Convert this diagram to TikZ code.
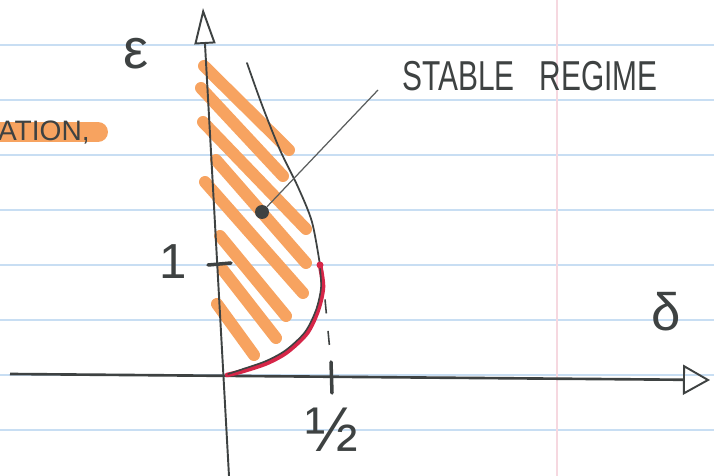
\documentclass[tikz,border=0pt]{standalone}
\usepackage{fontspec}
\setmainfont{Liberation Sans}
\usepackage{tikz}
\usetikzlibrary{arrows.meta,positioning}
\definecolor{pen}{RGB}{62,66,66}
\definecolor{hilite}{RGB}{247,163,96}
\definecolor{redpen}{RGB}{214,38,72}
\definecolor{paperrule}{RGB}{200,222,243}
\definecolor{paperedge}{RGB}{246,216,224}

\begin{document}
\begin{tikzpicture}[
      x=0.02cm, y=-0.02cm,
      ruleline/.style={paperrule, line width=1.6pt},
      axis/.style={pen, line width=1.1pt},
      stroke/.style={hilite, line width=2.4mm, line cap=round},
      hand/.style={text=pen, inner sep=0pt},
      tickmark/.style={pen, line width=2pt, line cap=round},
      curve/.style={pen, line width=1pt, line cap=round}
    ]
    \useasboundingbox (0,0) rectangle (714,476);
    \clip (0,0) rectangle (714,476);
    \fill[white] (0,0) rectangle (714,476);
    % ruled paper
    \foreach \y in {45,100,...,430}
      \draw[ruleline] (0,\y) -- (714,\y);
    \draw[paperedge, line width=1.2pt] (557,0) -- (557,476);
    % highlighter
    \draw[hilite, line width=4mm, line cap=round] (-10,132) -- (98,132);
    \foreach \a/\b in {{(204,66)/(289,150)}, {(201,88)/(283,176)}, {(203,122)/(306,229)},
                       {(216,160)/(306,263)}, {(205,182)/(303,293)}, {(220,236)/(286,316)},
                       {(223,270)/(276,338)}, {(217,304)/(254,355)}}
      \draw[stroke] \a -- \b;
    % axes
    \coordinate (origin) at (226,375);
    \coordinate (ybot) at (229,476);
    \coordinate (ytop) at (203,8);
    \coordinate (xleft) at (10,374);
    \coordinate (xright) at (710,380);
    \draw[axis, -{Triangle[open, length=7.2mm, width=4.2mm]}] (ybot) -- (ytop);
    \draw[axis, line width=1.5pt, -{Triangle[open, length=5.4mm, width=6mm, line width=1.1pt]}] (xleft) -- (xright);
    \node[hand, font=\fontsize{32}{32}\selectfont] (eps) at (136,54) {ε};
    \node[hand, font=\fontsize{30}{30}\selectfont] (delta) at (666,312) {δ};
    % ticks
    \draw[tickmark] (208,265) -- (231,263);
    \node[hand, font=\fontsize{28}{28}\selectfont] (one) at (173,262) {1};
    \draw[tickmark] (331,362) -- (332,393);
    \node[hand, font=\fontsize{36}{36}\selectfont] (half) at (332,430) {½};
    \draw[pen, line width=0.9pt, dash pattern=on 8pt off 10pt] (322,268) -- (331,362);
    % stability boundary
    \draw[curve] plot[smooth] coordinates {(247,63) (262,105) (280,150) (298,187) (312,222) (320,265)};
    \draw[redpen, line width=2.6pt, line cap=round] plot[smooth]
      coordinates {(320,265) (323,287) (318,310) (307,333) (287,352) (267,363) (243,371) (227,375)};
    \draw[curve, line width=0.9pt] plot[smooth]
      coordinates {(320,268) (321,288) (316,310) (305,332) (286,350) (266,361) (243,369) (228,374)};
    \fill[redpen] (320,265) circle (3.5);
    % label
    \node[circle, fill=pen, minimum size=2.8mm, inner sep=0pt] (blob) at (262,212) {};
    \node[hand, font=\fontsize{17}{17}\selectfont] (stable) at (530,76)
      {\scalebox{1}[1.4]{STABLE\hspace{0.5cm}REGIME}};
    \coordinate (leadend) at (378,90);
    \draw[pen!85, line width=0.7pt] (blob) -- (leadend);
    \node[hand, font=\fontsize{16}{16}\selectfont, anchor=base east] (ation) at (90,141) {ATION,};
  \end{tikzpicture}
\end{document}
